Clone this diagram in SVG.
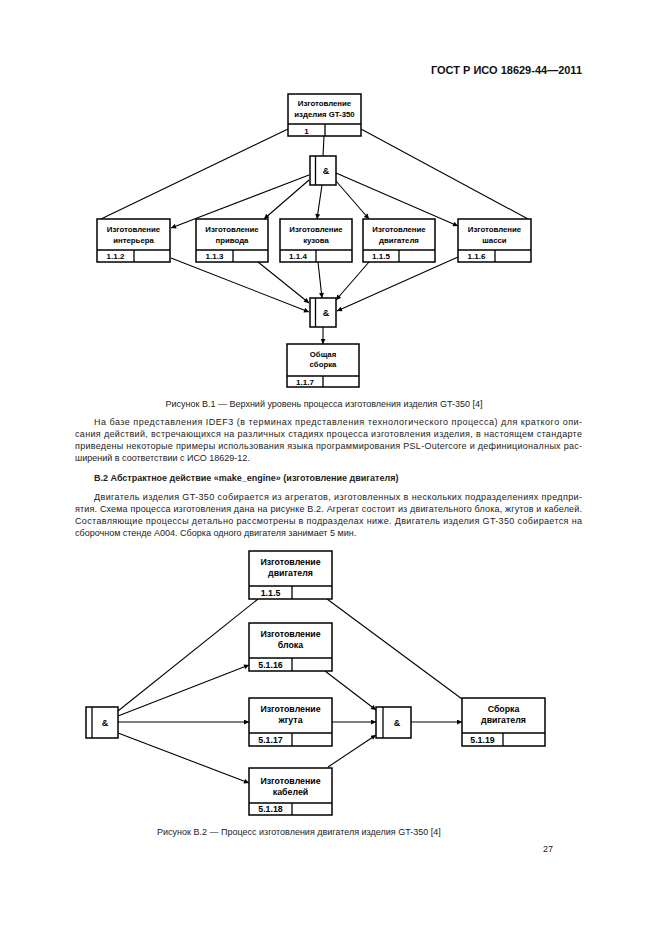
<svg xmlns="http://www.w3.org/2000/svg" width="661" height="935" viewBox="0 0 661 935">
<style>
.bg{fill:#fff}
.box{fill:#fff;stroke:#000;stroke-width:1.5}
.sep{stroke:#000;stroke-width:1.3;fill:none}
.ln{stroke:#000;stroke-width:1.1;fill:none}
.bt{font-family:"Liberation Sans",Arial,sans-serif;font-weight:bold;font-size:7.8px;text-anchor:middle;fill:#000}
.bt2{font-family:"Liberation Sans",Arial,sans-serif;font-weight:bold;font-size:8.8px;text-anchor:middle;fill:#000}
.lb{font-family:"Liberation Sans",Arial,sans-serif;font-weight:bold;font-size:8px;text-anchor:middle;fill:#000}
.lb2{font-family:"Liberation Sans",Arial,sans-serif;font-weight:bold;font-size:8.8px;text-anchor:middle;fill:#000}
.amp{font-family:"Liberation Sans",Arial,sans-serif;font-weight:bold;font-size:9px;text-anchor:middle;fill:#000}
.tx{font-family:"Liberation Sans",Arial,sans-serif;font-size:9px;fill:#222}
.hd{font-family:"Liberation Sans",Arial,sans-serif;font-size:9px;font-weight:bold;fill:#222}
.gost{font-family:"Liberation Sans",Arial,sans-serif;font-size:11px;font-weight:bold;fill:#111;text-anchor:end}
</style>
<defs>
<marker id="ah" viewBox="0 0 10 10" refX="10" refY="5" markerWidth="7" markerHeight="5" markerUnits="userSpaceOnUse" orient="auto"><path d="M0,0 L10,5 L0,10 z" fill="#000"/></marker>
</defs>
<rect class="bg" x="0" y="0" width="661" height="935"/>

<text class="gost" x="582" y="74">ГОСТ Р ИСО 18629-44—2011</text>

<!-- Figure B.1 connectors -->
<g id="connectors1">
<line class="ln" x1="288" y1="129" x2="101" y2="219"/>
<line class="ln" x1="361" y1="129" x2="528" y2="219"/>
<line class="ln" x1="324" y1="136" x2="323" y2="156"/>
<line class="ln" x1="309" y1="175" x2="171" y2="228" marker-end="url(#ah)"/>
<line class="ln" x1="309" y1="180" x2="264" y2="219" marker-end="url(#ah)"/>
<line class="ln" x1="322" y1="185" x2="317" y2="219" marker-end="url(#ah)"/>
<line class="ln" x1="336" y1="181" x2="369" y2="219" marker-end="url(#ah)"/>
<line class="ln" x1="336" y1="173" x2="458" y2="226" marker-end="url(#ah)"/>
<line class="ln" x1="171" y1="258" x2="309" y2="312" marker-end="url(#ah)"/>
<line class="ln" x1="258" y1="262" x2="309" y2="303" marker-end="url(#ah)"/>
<line class="ln" x1="318" y1="262" x2="322" y2="298" marker-end="url(#ah)"/>
<line class="ln" x1="369" y1="262" x2="336" y2="300" marker-end="url(#ah)"/>
<line class="ln" x1="458" y1="257" x2="337" y2="311" marker-end="url(#ah)"/>
<line class="ln" x1="323" y1="327" x2="323" y2="344" marker-end="url(#ah)"/>
</g>

<g id="n1">
<rect class="box" x="288" y="94" width="73" height="42"/>
<line class="sep" x1="288" y1="124" x2="361" y2="124"/>
<line class="sep" x1="325" y1="124" x2="325" y2="136"/>
<text class="bt" x="324.5" y="106">Изготовление</text>
<text class="bt" x="324.5" y="117">изделия GT-350</text>
<text class="lb" x="306.5" y="133.5">1</text>
</g>

<g id="j1">
<rect class="box" x="310" y="156" width="26" height="29"/>
<line class="sep" x1="315.5" y1="156" x2="315.5" y2="185"/>
<text class="amp" x="326" y="174">&amp;</text>
</g>

<g id="n112">
<rect class="box" x="97" y="219" width="73" height="43"/>
<line class="sep" x1="97" y1="250" x2="170" y2="250"/>
<line class="sep" x1="134" y1="250" x2="134" y2="262"/>
<text class="bt" x="133.5" y="232">Изготовление</text>
<text class="bt" x="133.5" y="243">интерьера</text>
<text class="lb" x="115.5" y="259">1.1.2</text>
</g>

<g id="n113">
<rect class="box" x="196" y="219" width="72" height="43"/>
<line class="sep" x1="196" y1="250" x2="268" y2="250"/>
<line class="sep" x1="233" y1="250" x2="233" y2="262"/>
<text class="bt" x="232" y="232">Изготовление</text>
<text class="bt" x="232" y="243">привода</text>
<text class="lb" x="214.5" y="259">1.1.3</text>
</g>

<g id="n114">
<rect class="box" x="280" y="219" width="72" height="43"/>
<line class="sep" x1="280" y1="250" x2="352" y2="250"/>
<line class="sep" x1="316" y1="250" x2="316" y2="262"/>
<text class="bt" x="316" y="232">Изготовление</text>
<text class="bt" x="316" y="243">кузова</text>
<text class="lb" x="298" y="259">1.1.4</text>
</g>

<g id="n115">
<rect class="box" x="363" y="219" width="72" height="43"/>
<line class="sep" x1="363" y1="250" x2="435" y2="250"/>
<line class="sep" x1="399" y1="250" x2="399" y2="262"/>
<text class="bt" x="399" y="232">Изготовление</text>
<text class="bt" x="399" y="243">двигателя</text>
<text class="lb" x="381" y="259">1.1.5</text>
</g>

<g id="n116">
<rect class="box" x="458" y="219" width="73" height="43"/>
<line class="sep" x1="458" y1="250" x2="531" y2="250"/>
<line class="sep" x1="495" y1="250" x2="495" y2="262"/>
<text class="bt" x="494.5" y="232">Изготовление</text>
<text class="bt" x="494.5" y="243">шасси</text>
<text class="lb" x="476.5" y="259">1.1.6</text>
</g>

<g id="j2">
<rect class="box" x="310" y="298" width="26" height="29"/>
<line class="sep" x1="315.5" y1="298" x2="315.5" y2="327"/>
<text class="amp" x="326" y="316">&amp;</text>
</g>

<g id="n117">
<rect class="box" x="287" y="344" width="72" height="43"/>
<line class="sep" x1="287" y1="376" x2="359" y2="376"/>
<line class="sep" x1="323" y1="376" x2="323" y2="387"/>
<text class="bt" x="323" y="357">Общая</text>
<text class="bt" x="323" y="367">сборка</text>
<text class="lb" x="305" y="384.5">1.1.7</text>
</g>

<text class="tx" x="324" y="407" text-anchor="middle">Рисунок В.1 — Верхний уровень процесса изготовления изделия GT-350 [4]</text>

<text class="tx" x="94" y="425" textLength="488" lengthAdjust="spacing">На базе представления IDEF3 (в терминах представления технологического процесса) для краткого опи-</text>
<text class="tx" x="75" y="437" textLength="507" lengthAdjust="spacing">сания действий, встречающихся на различных стадиях процесса изготовления изделия, в настоящем стандарте</text>
<text class="tx" x="75" y="449" textLength="507" lengthAdjust="spacing">приведены некоторые примеры использования языка программирования PSL-Outercore и дефиниционалных рас-</text>
<text class="tx" x="75" y="461">ширений в соответствии с ИСО 18629-12.</text>

<text class="hd" x="94" y="481">В.2 Абстрактное действие «make_engine» (изготовление двигателя)</text>

<text class="tx" x="94" y="500" textLength="488" lengthAdjust="spacing">Двигатель изделия GT-350 собирается из агрегатов, изготовленных в нескольких подразделениях предпри-</text>
<text class="tx" x="75" y="512" textLength="507" lengthAdjust="spacing">ятия. Схема процесса изготовления дана на рисунке В.2. Агрегат состоит из двигательного блока, жгутов и кабелей.</text>
<text class="tx" x="75" y="524" textLength="507" lengthAdjust="spacing">Составляющие процессы детально рассмотрены в подразделах ниже. Двигатель изделия GT-350 собирается на</text>
<text class="tx" x="75" y="536">сборочном стенде А004. Сборка одного двигателя занимает 5 мин.</text>

<!-- Figure B.2 connectors -->
<g id="connectors2">
<line class="ln" x1="118" y1="711" x2="258" y2="599"/>
<line class="ln" x1="118" y1="716" x2="249" y2="665" marker-end="url(#ah)"/>
<line class="ln" x1="118" y1="722" x2="249" y2="722" marker-end="url(#ah)"/>
<line class="ln" x1="118" y1="733" x2="249" y2="783" marker-end="url(#ah)"/>
<line class="ln" x1="327" y1="599" x2="462" y2="699"/>
<line class="ln" x1="325" y1="671" x2="376" y2="710" marker-end="url(#ah)"/>
<line class="ln" x1="332" y1="722" x2="376" y2="722" marker-end="url(#ah)"/>
<line class="ln" x1="328" y1="767" x2="376" y2="735" marker-end="url(#ah)"/>
<line class="ln" x1="411" y1="722" x2="462" y2="722" marker-end="url(#ah)"/>
</g>

<g id="j3">
<rect class="box" x="86" y="707" width="32" height="31"/>
<line class="sep" x1="92" y1="707" x2="92" y2="738"/>
<text class="amp" x="105" y="726">&amp;</text>
</g>

<g id="m115">
<rect class="box" x="249" y="551" width="83" height="48"/>
<line class="sep" x1="249" y1="586" x2="332" y2="586"/>
<line class="sep" x1="292" y1="586" x2="292" y2="599"/>
<text class="bt2" x="290.5" y="565">Изготовление</text>
<text class="bt2" x="290.5" y="576">двигателя</text>
<text class="lb2" x="270.5" y="596">1.1.5</text>
</g>

<g id="m5116">
<rect class="box" x="249" y="623" width="83" height="48"/>
<line class="sep" x1="249" y1="658" x2="332" y2="658"/>
<line class="sep" x1="292" y1="658" x2="292" y2="671"/>
<text class="bt2" x="290.5" y="637">Изготовление</text>
<text class="bt2" x="290.5" y="648">блока</text>
<text class="lb2" x="270.5" y="668">5.1.16</text>
</g>

<g id="m5117">
<rect class="box" x="249" y="698" width="83" height="48"/>
<line class="sep" x1="249" y1="733" x2="332" y2="733"/>
<line class="sep" x1="292" y1="733" x2="292" y2="746"/>
<text class="bt2" x="290.5" y="712">Изготовление</text>
<text class="bt2" x="290.5" y="723">жгута</text>
<text class="lb2" x="270.5" y="743">5.1.17</text>
</g>

<g id="m5118">
<rect class="box" x="249" y="768" width="83" height="47"/>
<line class="sep" x1="249" y1="803" x2="332" y2="803"/>
<line class="sep" x1="292" y1="803" x2="292" y2="815"/>
<text class="bt2" x="290.5" y="784">Изготовление</text>
<text class="bt2" x="290.5" y="795">кабелей</text>
<text class="lb2" x="270.5" y="812">5.1.18</text>
</g>

<g id="j4">
<rect class="box" x="376" y="707" width="35" height="31"/>
<line class="sep" x1="383" y1="707" x2="383" y2="738"/>
<text class="amp" x="397" y="726">&amp;</text>
</g>

<g id="m5119">
<rect class="box" x="462" y="698" width="83" height="48"/>
<line class="sep" x1="462" y1="733" x2="545" y2="733"/>
<line class="sep" x1="503" y1="733" x2="503" y2="746"/>
<text class="bt2" x="503.5" y="712">Сборка</text>
<text class="bt2" x="503.5" y="723">двигателя</text>
<text class="lb2" x="482.5" y="743">5.1.19</text>
</g>

<text class="tx" x="157" y="835">Рисунок В.2 — Процесс изготовления двигателя изделия GT-350 [4]</text>
<text class="tx" x="553" y="852" text-anchor="end">27</text>
</svg>
